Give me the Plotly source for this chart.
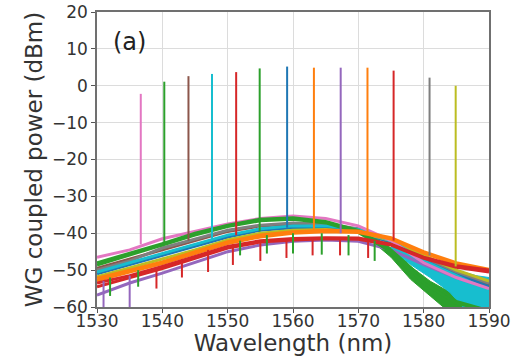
import plotly.graph_objects as go

# ---- data ----
wl_grid = [1530, 1535, 1540, 1545, 1550, 1555, 1560, 1565, 1570, 1575, 1580, 1585, 1590]

base_pink = [-46.5, -44.5, -41.5, -39.5, -37.5, -36.0, -35.3, -36.0, -38.0, -42.0, -48.0, -52.0, -55.0]
base_green1 = [-48.0, -45.5, -42.8, -40.0, -37.8, -36.2, -35.8, -36.8, -39.2, -44.5, -52.5, -58.5, -61.0]
base_brown = [-49.5, -47.0, -44.5, -42.0, -39.5, -38.0, -37.5, -37.8, -39.0, -42.5, -47.0, -51.0, -54.0]
base_cyan = [-50.5, -48.0, -45.5, -43.0, -40.5, -38.8, -38.0, -38.0, -39.0, -42.0, -47.5, -51.5, -55.5]
base_red1 = [-53.5, -51.5, -49.0, -46.2, -43.6, -42.0, -41.4, -41.2, -41.3, -43.0, -46.5, -48.8, -50.0]
base_green2 = [-48.6, -46.0, -43.2, -40.5, -38.2, -36.6, -36.2, -37.2, -39.8, -45.0, -53.5, -59.0, -61.0]
base_blue = [-51.0, -48.5, -46.0, -43.5, -41.0, -39.2, -38.5, -38.5, -39.5, -42.5, -47.0, -51.0, -54.5]
base_orange1 = [-52.2, -50.0, -47.8, -45.0, -42.3, -40.5, -39.6, -39.2, -39.4, -41.2, -45.0, -48.0, -49.8]
base_purple = [-56.8, -53.5, -50.8, -48.0, -45.0, -43.2, -42.2, -41.8, -42.2, -44.5, -48.5, -52.0, -55.0]
base_orange2 = [-52.8, -50.5, -48.2, -45.5, -42.8, -41.0, -40.0, -39.6, -39.8, -41.6, -45.4, -48.4, -50.2]
base_red2 = [-54.5, -52.0, -49.6, -46.8, -44.0, -42.4, -41.8, -41.5, -41.6, -43.2, -46.8, -49.2, -50.5]
base_gray = [-50.0, -47.5, -44.0, -41.5, -39.2, -37.8, -37.2, -37.5, -38.8, -42.0, -46.5, -50.5, -53.5]
base_olive = [-51.8, -49.5, -47.0, -44.5, -41.8, -40.0, -39.2, -39.0, -39.6, -42.0, -46.0, -50.0, -53.0]

# noisy tails on the long-wavelength side (upper / lower envelope)
tail_cyan_wl = [1575, 1578, 1581, 1584, 1586, 1588, 1590]
tail_cyan_hi = [-42.5, -45.0, -47.5, -49.5, -50.5, -51.5, -52.0]
tail_cyan_lo = [-44.5, -48.5, -52.0, -56.0, -60.0, -60.0, -60.0]
tail_green_wl = [1572, 1575, 1578, 1581, 1583, 1586, 1590]
tail_green_hi = [-40.5, -44.0, -49.0, -53.0, -55.0, -57.0, -58.0]
tail_green_lo = [-42.0, -46.5, -52.5, -57.0, -60.0, -60.0, -60.0]

peak_wl = [1536.7, 1540.3, 1544.0, 1547.6, 1551.3, 1554.9, 1559.1, 1563.2, 1567.3, 1571.4, 1575.4, 1580.9, 1584.9]
peak_dbm = [-2.2, 1.1, 2.6, 3.2, 3.7, 4.7, 5.2, 4.9, 4.9, 4.9, 4.1, 2.2, 0.0]
peak_base = [-43.0, -42.5, -42.0, -41.5, -40.5, -39.5, -38.5, -39.0, -40.0, -40.0, -42.0, -46.0, -49.0]

dip_red_wl = [1531.0, 1535.0, 1539.1, 1543.0, 1547.0, 1550.8, 1555.0, 1559.0, 1563.0, 1567.2, 1571.5]
dip_red_top = [-53.0, -51.5, -49.5, -47.0, -44.5, -43.0, -42.0, -41.5, -41.2, -41.4, -42.0]
dip_red_bottom = [-60.0, -60.0, -55.0, -52.0, -50.5, -48.6, -47.5, -46.7, -46.0, -46.0, -46.7]

dip_green_wl = [1532.0, 1536.3, 1551.9, 1556.0, 1560.0, 1564.4, 1568.5, 1572.5]
dip_green_top = [-52.0, -50.0, -42.0, -40.5, -40.0, -40.0, -40.5, -42.0]
dip_green_bottom = [-57.0, -54.5, -46.0, -45.5, -45.5, -45.8, -46.0, -47.5]

# ---- styles ----
C_PINK, C_GREEN, C_BROWN, C_CYAN = "#e377c2", "#2ca02c", "#8c564b", "#17becf"
C_RED, C_BLUE, C_ORANGE, C_PURPLE = "#d62728", "#1f77b4", "#ff7f0e", "#9467bd"
C_GRAY, C_OLIVE = "#7f7f7f", "#bcbd22"

peak_colors = [C_PINK, C_GREEN, C_BROWN, C_CYAN, C_RED, C_GREEN, C_BLUE,
               C_ORANGE, C_PURPLE, C_ORANGE, C_RED, C_GRAY, C_OLIVE]

base_traces = [
    (base_purple, C_PURPLE), (base_brown, C_BROWN), (base_blue, C_BLUE),
    (base_gray, C_GRAY), (base_olive, C_OLIVE), (base_cyan, C_CYAN),
    (base_pink, C_PINK), (base_green1, C_GREEN), (base_green2, C_GREEN),
    (base_orange1, C_ORANGE), (base_orange2, C_ORANGE),
    (base_red1, C_RED), (base_red2, C_RED),
]

fig = go.Figure()

# tails first (underneath): green, then cyan over it
for wl, hi, lo, col in [(tail_green_wl, tail_green_hi, tail_green_lo, C_GREEN),
                        (tail_cyan_wl, tail_cyan_hi, tail_cyan_lo, C_CYAN)]:
    fig.add_trace(go.Scatter(x=wl + wl[::-1], y=hi + lo[::-1], mode="lines",
                             fill="toself", fillcolor=col,
                             line=dict(color=col, width=1),
                             showlegend=False, hoverinfo="skip"))

for ys, col in base_traces:
    fig.add_trace(go.Scatter(x=wl_grid, y=ys, mode="lines",
                             line=dict(color=col, width=3),
                             showlegend=False, hoverinfo="skip"))

for w, t, b in zip(dip_green_wl, dip_green_top, dip_green_bottom):
    fig.add_trace(go.Scatter(x=[w, w], y=[t, b], mode="lines",
                             line=dict(color=C_GREEN, width=2),
                             showlegend=False, hoverinfo="skip"))

for i, (w, t, b) in enumerate(zip(dip_red_wl, dip_red_top, dip_red_bottom)):
    col = C_PURPLE if i < 2 else C_RED
    fig.add_trace(go.Scatter(x=[w, w], y=[t, b], mode="lines",
                             line=dict(color=col, width=2),
                             showlegend=False, hoverinfo="skip"))

for w, p, b, col in zip(peak_wl, peak_dbm, peak_base, peak_colors):
    fig.add_trace(go.Scatter(x=[w, w], y=[b, p], mode="lines",
                             line=dict(color=col, width=2),
                             showlegend=False, hoverinfo="skip"))

fig.add_annotation(x=1535, y=12, text="(a)", showarrow=False,
                   font=dict(size=24, color="#222", family="DejaVu Sans"))

axis_common = dict(showgrid=True, gridcolor="#dcdcdc", gridwidth=1,
                   showline=True, linecolor="#707070", linewidth=1.5, mirror=True,
                   ticks="outside", ticklen=4, tickwidth=1.2, tickcolor="#555",
                   tickfont=dict(size=17, color="#333", family="DejaVu Sans"),
                   zeroline=False)

fig.update_xaxes(range=[1530, 1590], dtick=10, tick0=1530,
                 ticklabelstandoff=-6,
                 title=dict(text="Wavelength (nm)", standoff=5,
                            font=dict(size=23, color="#333", family="DejaVu Sans")),
                 **axis_common)
fig.update_yaxes(range=[-60, 20], dtick=10, tick0=-60,
                 title=dict(text="WG coupled power (dBm)", standoff=3,
                            font=dict(size=23, color="#333", family="DejaVu Sans")),
                 **axis_common)

fig.update_layout(width=524, height=356,
                  margin=dict(l=97, r=35, t=12, b=49, autoexpand=False),
                  paper_bgcolor="white", plot_bgcolor="white",
                  font=dict(family="DejaVu Sans"))

# remove the default 8 px page margin so the figure starts at the window corner
fig.write_html("out.html", config={"displayModeBar": False},
               post_script="document.body.style.margin='0';")
